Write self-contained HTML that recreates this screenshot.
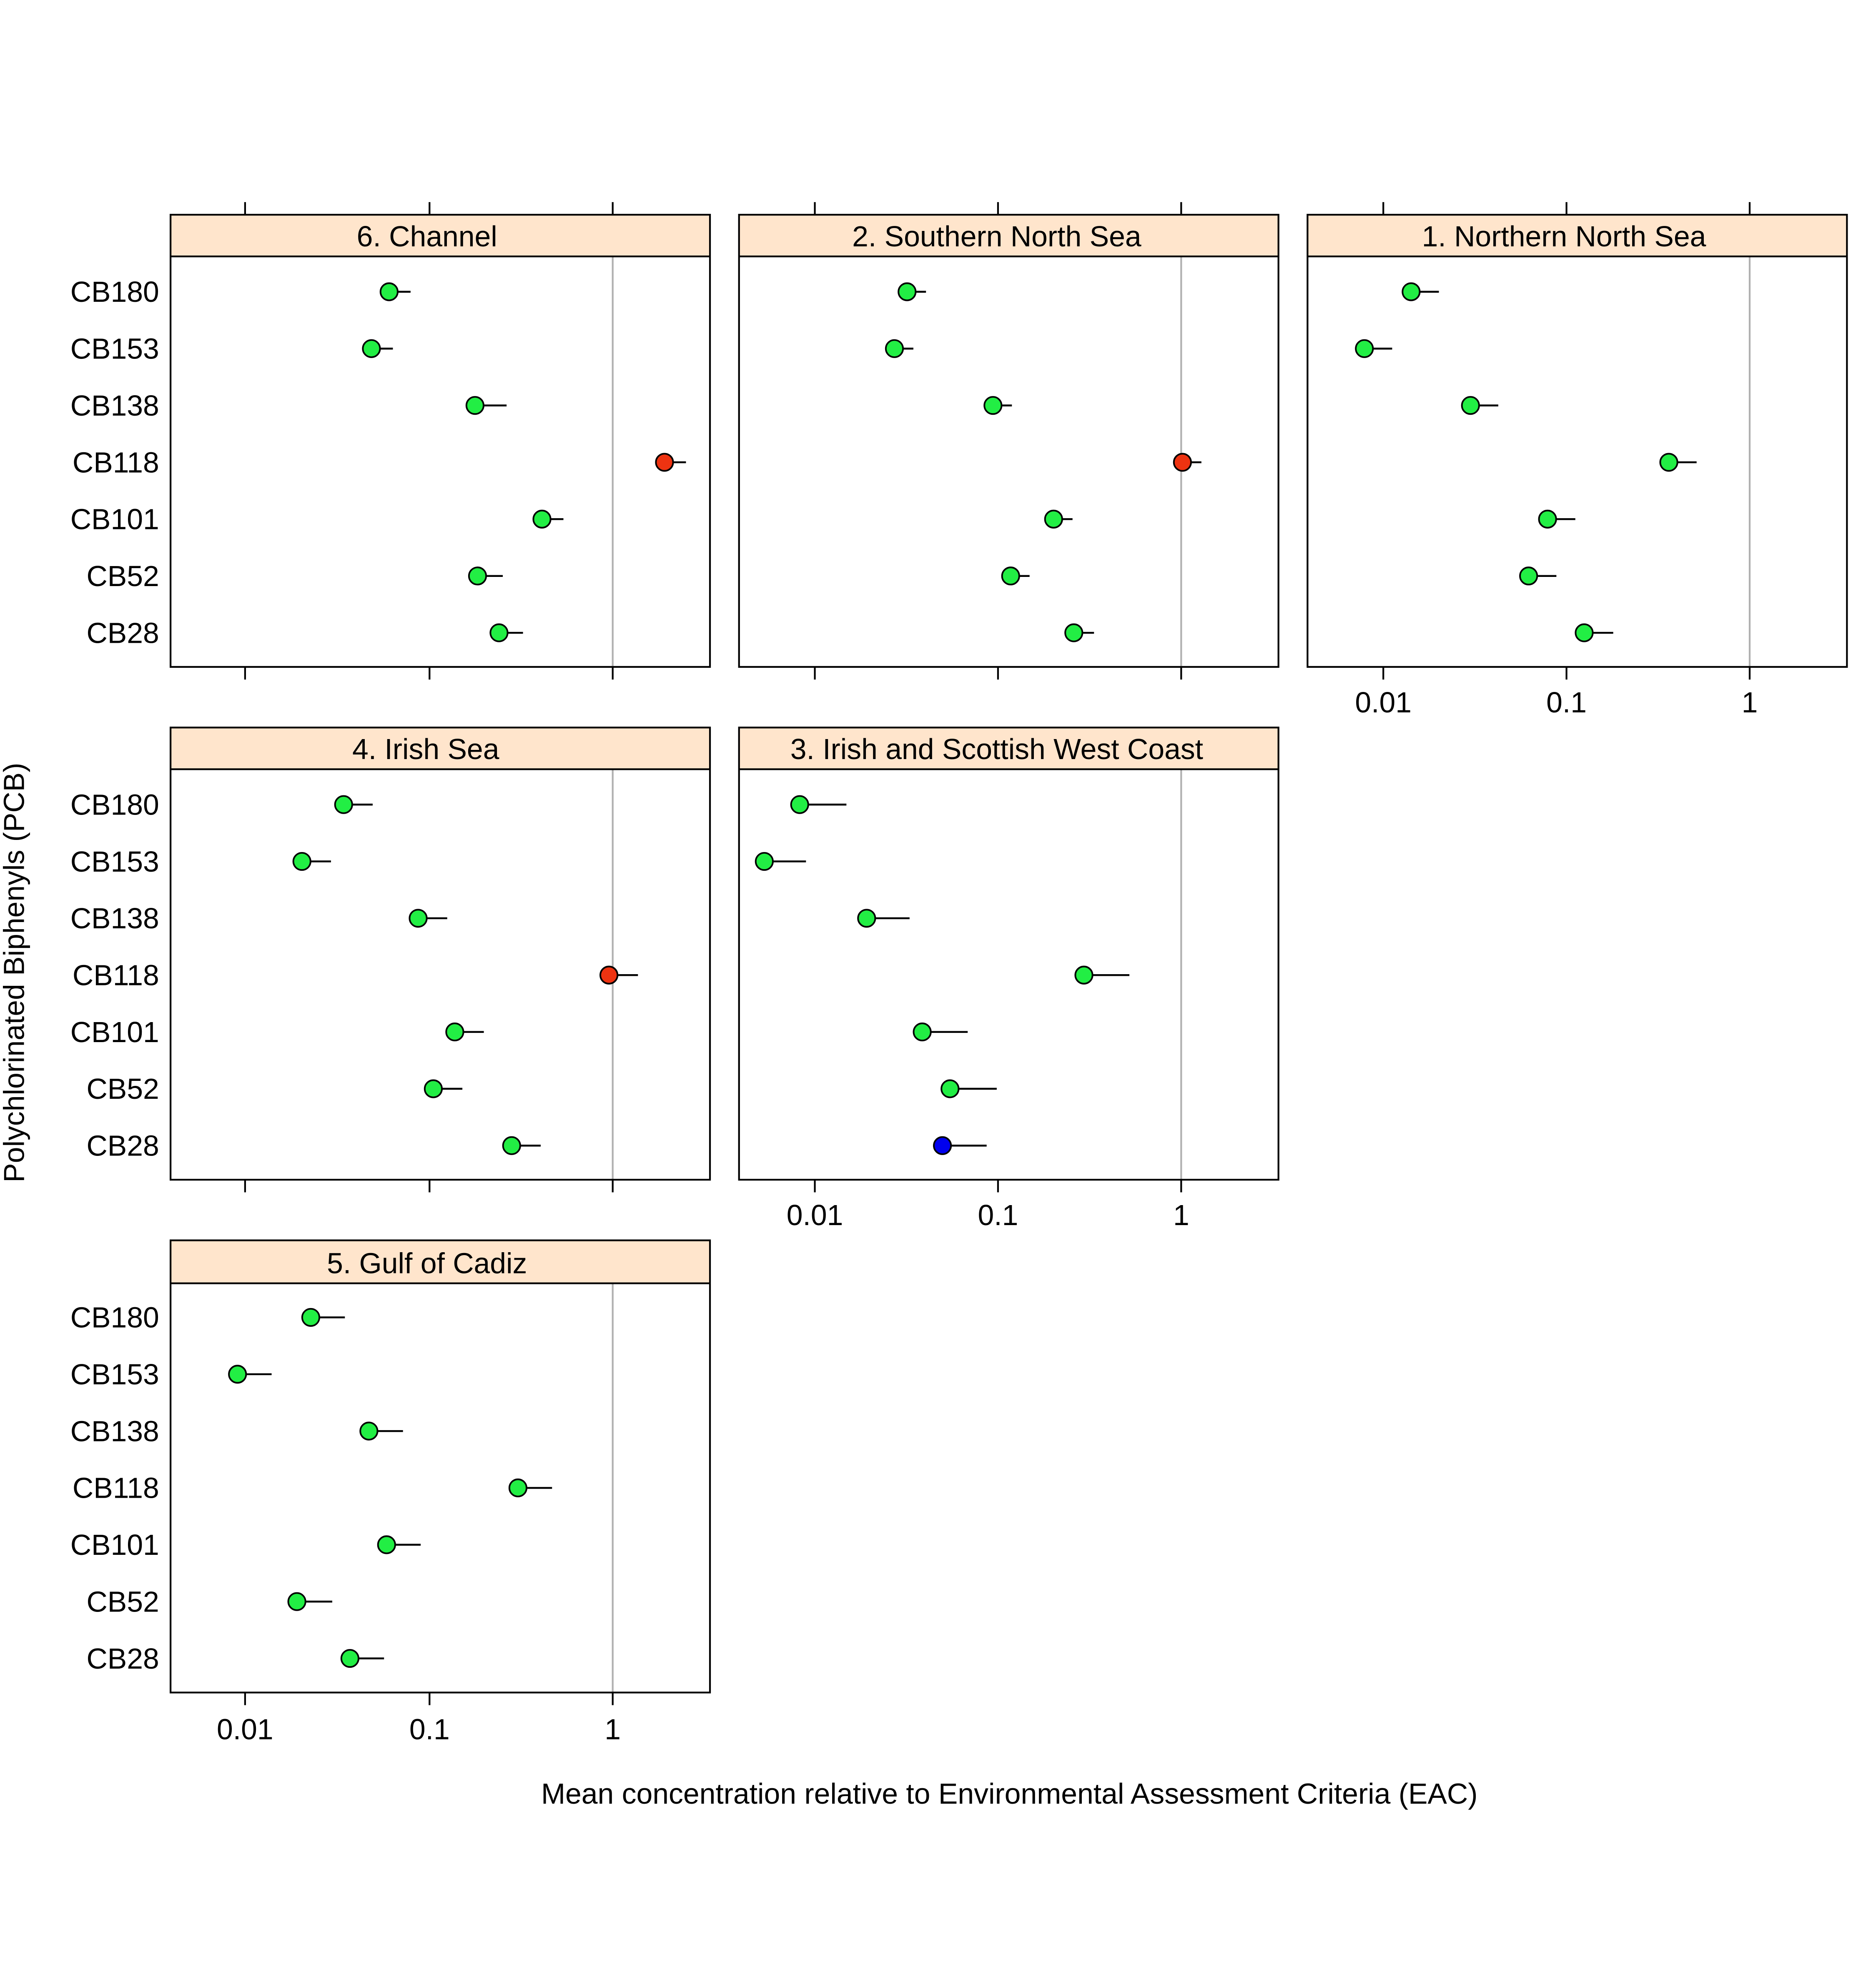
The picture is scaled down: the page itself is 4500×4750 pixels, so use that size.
<!DOCTYPE html>
<html><head><meta charset="utf-8"><style>html,body{margin:0;padding:0;background:#fff}svg{display:block}</style></head><body>
<svg xmlns="http://www.w3.org/2000/svg" width="4500" height="4750" viewBox="0 0 1485 1567.6" preserveAspectRatio="none" font-family="Liberation Sans, Arial, sans-serif">
<rect width="1485" height="1567.6" fill="#fff"/>
<g stroke="#000" stroke-width="1.4">
<g fill="#FFE5CC" stroke="none">
<rect x="135" y="170" width="427" height="33"/>
<rect x="585" y="170" width="427" height="33"/>
<rect x="1035" y="170" width="427" height="33"/>
<rect x="135" y="576" width="427" height="33"/>
<rect x="585" y="576" width="427" height="33"/>
<rect x="135" y="982" width="427" height="34"/>
</g>
<g stroke="#b0b0b0">
<line x1="485" y1="203" x2="485" y2="528"/><line x1="935" y1="203" x2="935" y2="528"/><line x1="1385" y1="203" x2="1385" y2="528"/>
<line x1="485" y1="609" x2="485" y2="934"/><line x1="935" y1="609" x2="935" y2="934"/>
<line x1="485" y1="1016" x2="485" y2="1340"/>
</g>
<g fill="none">
<rect x="135" y="170" width="427" height="358"/><line x1="135" y1="203" x2="562" y2="203"/>
<rect x="585" y="170" width="427" height="358"/><line x1="585" y1="203" x2="1012" y2="203"/>
<rect x="1035" y="170" width="427" height="358"/><line x1="1035" y1="203" x2="1462" y2="203"/>
<rect x="135" y="576" width="427" height="358"/><line x1="135" y1="609" x2="562" y2="609"/>
<rect x="585" y="576" width="427" height="358"/><line x1="585" y1="609" x2="1012" y2="609"/>
<rect x="135" y="982" width="427" height="358"/><line x1="135" y1="1016" x2="562" y2="1016"/>
</g>
<g>
<path d="M194 160V170M340 160V170M485 160V170M645 160V170M790 160V170M935 160V170M1095 160V170M1240 160V170M1385 160V170"/>
<path d="M194 528V538M340 528V538M485 528V538M645 528V538M790 528V538M935 528V538M1095 528V538M1240 528V538M1385 528V538"/>
<path d="M194 934V944M340 934V944M485 934V944M645 934V944M790 934V944M935 934V944"/>
<path d="M194 1340V1350M340 1340V1350M485 1340V1350"/>
</g>
</g>
<g stroke="#000" stroke-width="1.5">
<path d="M308 231H325M294 276H311M376 321H401M526 366H543M429 411H446M378 456H398M395 501H414"/>
<path d="M718 231H733M708 276H723M786 321H801M936 366H951M834 411H849M800 456H815M850 501H866"/>
<path d="M1117 231H1139M1080 276H1102M1164 321H1186M1321 366H1343M1225 411H1247M1210 456H1232M1254 501H1277"/>
<path d="M272 637H295M239 682H262M331 727H354M482 772H505M360 817H383M343 862H366M405 907H428"/>
<path d="M633 637H670M605 682H638M686 727H720M858 772H894M730 817H766M752 862H789M746 907H781"/>
<path d="M246 1043H273M188 1088H215M292 1133H319M410 1178H437M306 1223H333M235 1268H263M277 1313H304"/>
</g>
<g stroke="#000" stroke-width="1.3" fill="#22ee44">
<circle cx="308" cy="231" r="6.8"/><circle cx="294" cy="276" r="6.8"/><circle cx="376" cy="321" r="6.8"/><circle cx="526" cy="366" r="6.8" fill="#ee3311"/><circle cx="429" cy="411" r="6.8"/><circle cx="378" cy="456" r="6.8"/><circle cx="395" cy="501" r="6.8"/>
<circle cx="718" cy="231" r="6.8"/><circle cx="708" cy="276" r="6.8"/><circle cx="786" cy="321" r="6.8"/><circle cx="936" cy="366" r="6.8" fill="#ee3311"/><circle cx="834" cy="411" r="6.8"/><circle cx="800" cy="456" r="6.8"/><circle cx="850" cy="501" r="6.8"/>
<circle cx="1117" cy="231" r="6.8"/><circle cx="1080" cy="276" r="6.8"/><circle cx="1164" cy="321" r="6.8"/><circle cx="1321" cy="366" r="6.8"/><circle cx="1225" cy="411" r="6.8"/><circle cx="1210" cy="456" r="6.8"/><circle cx="1254" cy="501" r="6.8"/>
<circle cx="272" cy="637" r="6.8"/><circle cx="239" cy="682" r="6.8"/><circle cx="331" cy="727" r="6.8"/><circle cx="482" cy="772" r="6.8" fill="#ee3311"/><circle cx="360" cy="817" r="6.8"/><circle cx="343" cy="862" r="6.8"/><circle cx="405" cy="907" r="6.8"/>
<circle cx="633" cy="637" r="6.8"/><circle cx="605" cy="682" r="6.8"/><circle cx="686" cy="727" r="6.8"/><circle cx="858" cy="772" r="6.8"/><circle cx="730" cy="817" r="6.8"/><circle cx="752" cy="862" r="6.8"/><circle cx="746" cy="907" r="6.8" fill="#0000ee"/>
<circle cx="246" cy="1043" r="6.8"/><circle cx="188" cy="1088" r="6.8"/><circle cx="292" cy="1133" r="6.8"/><circle cx="410" cy="1178" r="6.8"/><circle cx="306" cy="1223" r="6.8"/><circle cx="235" cy="1268" r="6.8"/><circle cx="277" cy="1313" r="6.8"/>
</g>
<g font-size="23" fill="#000" text-anchor="middle">
<text x="338" y="195">6. Channel</text>
<text x="789" y="195">2. Southern North Sea</text>
<text x="1238" y="195">1. Northern North Sea</text>
<text x="337" y="601">4. Irish Sea</text>
<text x="789" y="601">3. Irish and Scottish West Coast</text>
<text x="338" y="1008">5. Gulf of Cadiz</text>
<text x="1095" y="564">0.01</text><text x="1240" y="564">0.1</text><text x="1385" y="564">1</text>
<text x="645" y="970">0.01</text><text x="790" y="970">0.1</text><text x="935" y="970">1</text>
<text x="194" y="1377">0.01</text><text x="340" y="1377">0.1</text><text x="485" y="1377">1</text>
<text x="799" y="1428">Mean concentration relative to Environmental Assessment Criteria (EAC)</text>
<text transform="translate(19,770) rotate(-90)">Polychlorinated Biphenyls (PCB)</text>
</g>
<g font-size="23" fill="#000" text-anchor="end">
<text x="126" y="239">CB180</text><text x="126" y="284">CB153</text><text x="126" y="329">CB138</text><text x="126" y="374">CB118</text><text x="126" y="419">CB101</text><text x="126" y="464">CB52</text><text x="126" y="509">CB28</text>
<text x="126" y="645">CB180</text><text x="126" y="690">CB153</text><text x="126" y="735">CB138</text><text x="126" y="780">CB118</text><text x="126" y="825">CB101</text><text x="126" y="870">CB52</text><text x="126" y="915">CB28</text>
<text x="126" y="1051">CB180</text><text x="126" y="1096">CB153</text><text x="126" y="1141">CB138</text><text x="126" y="1186">CB118</text><text x="126" y="1231">CB101</text><text x="126" y="1276">CB52</text><text x="126" y="1321">CB28</text>
</g>
</svg>
</body></html>
